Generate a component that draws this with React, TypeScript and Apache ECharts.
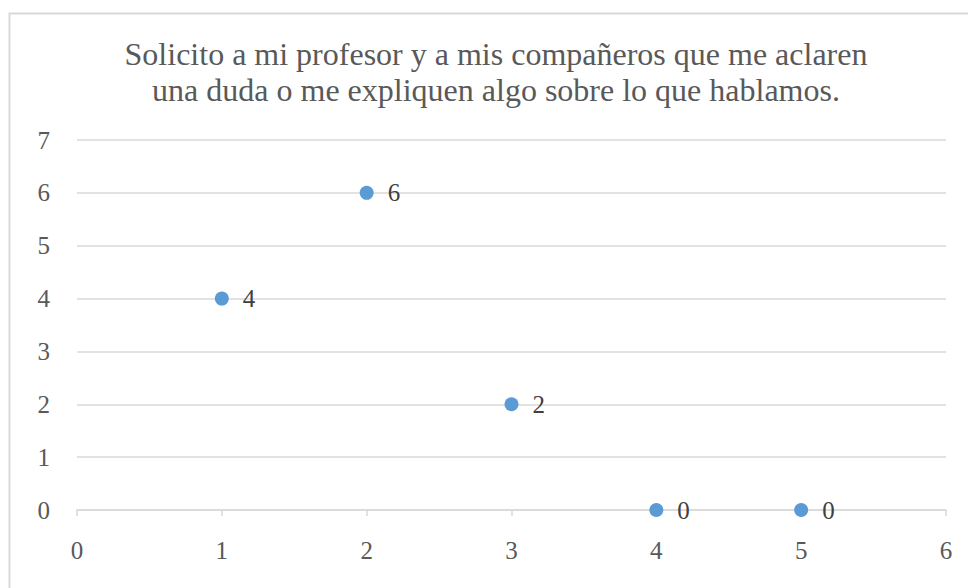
import React, { useEffect, useRef } from "react";
import * as echarts from "echarts";

const titleLines = [
  "Solicito a mi profesor y a mis compañeros que me aclaren",
  "una duda o me expliquen algo sobre lo que hablamos.",
];
const xValues = [1, 2, 3, 4, 5];
const yValues = [4, 6, 2, 0, 0];
const xTicks = [0, 1, 2, 3, 4, 5, 6];
const yTicks = [0, 1, 2, 3, 4, 5, 6, 7];

const FONT = "'Liberation Serif', 'Times New Roman', serif";

export default function App() {
  const ref = useRef<HTMLDivElement>(null);
  useEffect(() => {
    if (!ref.current) return;
    const chart = echarts.init(ref.current, undefined, { renderer: "svg" });
    chart.setOption({
      animation: false,
      backgroundColor: "#ffffff",
      graphic: [
        {
          type: "rect",
          shape: { x: 9.5, y: 13.5, width: 970, height: 590 },
          style: { fill: "none", stroke: "#d9d9d9", lineWidth: 2 },
          silent: true,
        },
        {
          type: "text",
          x: 496,
          y: 36,
          silent: true,
          style: {
            text: titleLines.join("\n"),
            fontFamily: FONT,
            fontSize: 32,
            lineHeight: 36,
            fill: "#595959",
            align: "center",
            verticalAlign: "top",
          },
        },
      ],
      grid: { left: 77, right: 22, top: 140, bottom: 78, containLabel: false },
      xAxis: {
        type: "value",
        min: xTicks[0],
        max: xTicks[xTicks.length - 1],
        interval: 1,
        axisLine: { show: true, lineStyle: { color: "#d9d9d9", width: 1.5 } },
        axisTick: { show: true, length: 6, lineStyle: { color: "#d9d9d9", width: 1.5 } },
        splitLine: { show: false },
        axisLabel: {
          fontFamily: FONT,
          fontSize: 25,
          color: "#595959",
          margin: 28,
        },
      },
      yAxis: {
        type: "value",
        min: yTicks[0],
        max: yTicks[yTicks.length - 1],
        interval: 1,
        axisLine: { show: false },
        axisTick: { show: false },
        splitLine: { show: true, lineStyle: { color: "#d9d9d9", width: 1.5 } },
        axisLabel: {
          fontFamily: FONT,
          fontSize: 25,
          color: "#595959",
          margin: 27,
        },
      },
      series: [
        {
          type: "scatter",
          data: xValues.map((x, i) => [x, yValues[i]]),
          symbol: "circle",
          symbolSize: 14,
          itemStyle: { color: "#5b9bd5", opacity: 1 },
          label: {
            show: true,
            position: "right",
            distance: 14,
            formatter: (p: any) => String(p.value[1]),
            fontFamily: FONT,
            fontSize: 25,
            color: "#404040",
          },
        },
      ],
    });
    return () => chart.dispose();
  }, []);
  return (
    <div
      ref={ref}
      style={{ position: "fixed", left: 0, top: 0, width: 968, height: 588 }}
    />
  );
}
